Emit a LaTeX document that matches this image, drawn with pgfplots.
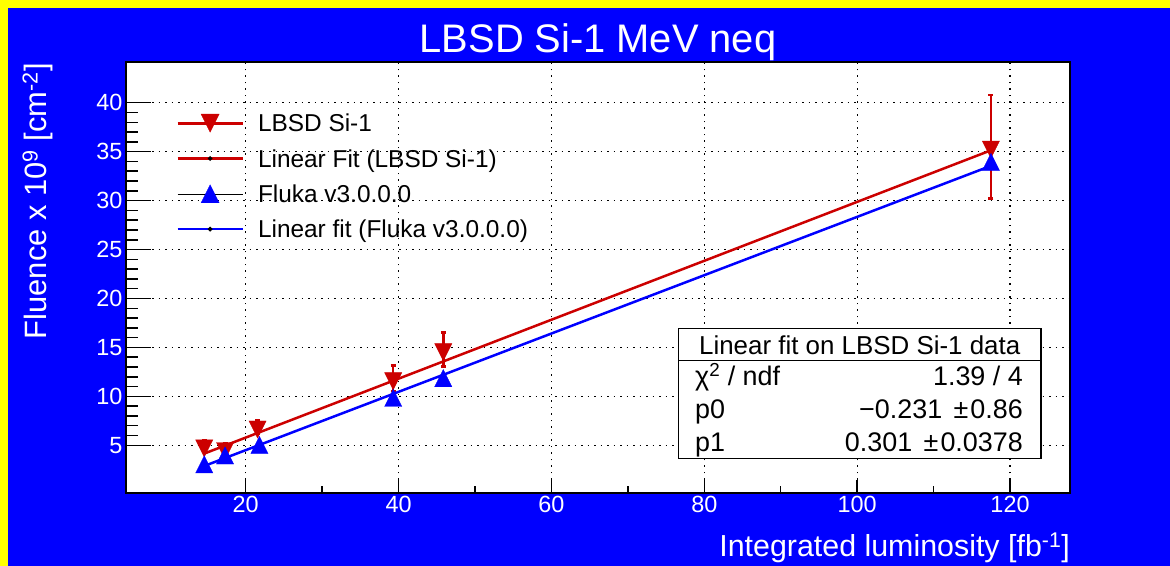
\documentclass[border=0pt]{standalone}
\usepackage{fontspec}
\setmainfont{Liberation Sans}
\usepackage{pgfplots}
\usepackage{pgfplotstable}
\pgfplotsset{compat=1.18}
\definecolor{rootyellow}{RGB}{255,255,0}
\definecolor{rootblue}{RGB}{0,0,255}
\definecolor{rootred}{RGB}{204,0,0}
\newcommand{\fs}[1]{\fontsize{#1}{#1}\selectfont}

\pgfplotstableread{
x y ey
14.58 4.97 0.5
17.3 4.7 0.5
21.55 6.9 0.7
39.3 11.84 1.3
45.85 14.8 1.75
117.5 35.5 5.3
}\lbsd
\pgfplotstableread{
x y
14.58 2.76
17.3 3.67
21.8 4.75
39.3 9.56
45.85 11.57
117.5 33.66
}\fluka
\pgfplotstableread{
x y
14.58 4.158
117.5 35.136
}\lbsdfit
\pgfplotstableread{
x y
14.58 2.89
117.5 33.55
}\flukafit

\begin{document}
\begin{tikzpicture}[x=1bp,y=1bp]
\fill[rootyellow] (0,0) rectangle (1170,566);
\fill[rootblue] (8,0) rectangle (1170,558);
\begin{axis}[
  at={(126bp,73bp)}, anchor=south west,
  scale only axis, width=944bp, height=431bp,
  xmin=4.34, xmax=127.85, ymin=0.13, ymax=44.16,
  axis background/.style={fill=white},
  axis line style={black, line width=2bp},
  xtick={20,40,...,120}, ytick={5,10,...,40},
  minor x tick num=1, minor y tick num=4,
  tick align=inside, xtick pos=bottom, ytick pos=left,
  major tick length=13bp, minor tick length=7bp,
  tick style={black, line width=1.5bp},
  grid=major,
  major grid style={black, line width=1.2bp, dash pattern=on 1.5bp off 5bp},
  ticklabel style={white, font=\fs{23.5}},
  /pgf/number format/assume math mode=true,
  legend cell align=left,
  legend style={at={(0.0530,0.8863)}, anchor=north west, draw=none, fill=none,
    font=\fs{24.5}, inner sep=0pt, row sep=11.3bp, column sep=14bp,
    nodes={inner sep=0pt, text height=20.6bp, text depth=3.4bp}},
]
\addplot[only marks, mark=triangle*, mark size=11.5bp,
  mark options={rotate=180, xscale=0.866, fill=rootred, draw=rootred, line width=0.3bp},
  legend image code/.code={
    \draw[rootred, line width=2.8bp] (0bp,0bp) -- (65bp,0bp);
    \fill[rootred] (23.5bp,9bp) -- (41.5bp,9bp) -- (32.5bp,-9bp) -- cycle;},
  error bars/.cd, y dir=both, y explicit,
  error bar style={rootred, line width=2.5bp},
  error mark options={rootred, rotate=90, mark size=2.5bp, line width=2.5bp}]
  table[x=x, y=y, y error=ey] {\lbsd};
\addlegendentry{LBSD Si-1}
\addplot[rootred, line width=2.5bp, no marks,
  legend image code/.code={
    \draw[rootred, line width=2.8bp] (0bp,0bp) -- (65bp,0bp);
    \fill[black] (32.5bp,0bp) circle (0.8bp);}]
  table[x=x, y=y] {\lbsdfit};
\addlegendentry{Linear Fit (LBSD Si-1)}
\addplot[only marks, mark=triangle*, mark size=11.5bp,
  mark options={xscale=0.866, fill=rootblue, draw=rootblue, line width=0.3bp},
  legend image code/.code={
    \path (0bp,0bp) -- (65bp,0bp);
    \fill[rootblue] (23.5bp,-9bp) -- (41.5bp,-9bp) -- (32.5bp,9bp) -- cycle;}]
  table[x=x, y=y] {\fluka};
\addlegendentry{Fluka v3.0.0.0}
\addplot[rootblue, line width=2.5bp, no marks,
  legend image code/.code={
    \draw[rootblue, line width=2.8bp] (0bp,0bp) -- (65bp,0bp);
    \fill[black] (32.5bp,0bp) circle (0.8bp);}]
  table[x=x, y=y] {\flukafit};
\addlegendentry{Linear fit (Fluka v3.0.0.0)}
\end{axis}
% longer y ticks as in the reference (no labels here)
\begin{axis}[
  at={(126bp,73bp)}, anchor=south west,
  scale only axis, width=944bp, height=431bp,
  xmin=4.34, xmax=127.85, ymin=0.13, ymax=44.16,
  xtick=\empty, ytick={5,10,...,40}, minor y tick num=4,
  yticklabels={}, ytick pos=left, tick align=inside,
  major tick length=25bp, minor tick length=12bp,
  tick style={black, line width=1.5bp},
  axis line style={draw=none},
]
\end{axis}
% title and axis labels
\node[white, font=\fs{40}, anchor=base, inner sep=0] at (598,513) {LBSD Si-1 MeV neq};
\node[white, font=\fs{30.5}, anchor=base east, inner sep=0] at (1070,9.3) {Integrated luminosity [fb\textsuperscript{-1}]};
\node[white, font=\fs{31}, rotate=90, anchor=base east, inner sep=0] at (46.7,503) {Fluence x 10\textsuperscript{9} [cm\textsuperscript{-2}]};
% fit statistics box
\draw[black, line width=1.5bp, fill=white] (678.3,107.7) rectangle (1041,237.7);
\draw[black, line width=1.5bp] (678.3,205.3) -- (1041,205.3);
\node[anchor=base, font=\fs{26}, inner sep=0] at (859.7,211) {Linear fit on LBSD Si-1 data};
\node[anchor=base west, font=\fs{27}, inner sep=0] at (695,180) {χ\textsuperscript{2} / ndf};
\node[anchor=base east, font=\fs{27}, inner sep=0] at (1023,180) {1.39 / 4};
\node[anchor=base west, font=\fs{27}, inner sep=0] at (695,147) {p0};
\node[anchor=base east, font=\fs{27}, inner sep=0] at (1023,147) {−0.231\hspace{4bp} ±\hspace{2bp}0.86};
\node[anchor=base west, font=\fs{27}, inner sep=0] at (695,114) {p1};
\node[anchor=base east, font=\fs{27}, inner sep=0] at (1023,114) {0.301\hspace{4bp} ±\hspace{2bp}0.0378};
\pgfresetboundingbox
\path (0,0) rectangle (1170,566);
\end{tikzpicture}
\end{document}
